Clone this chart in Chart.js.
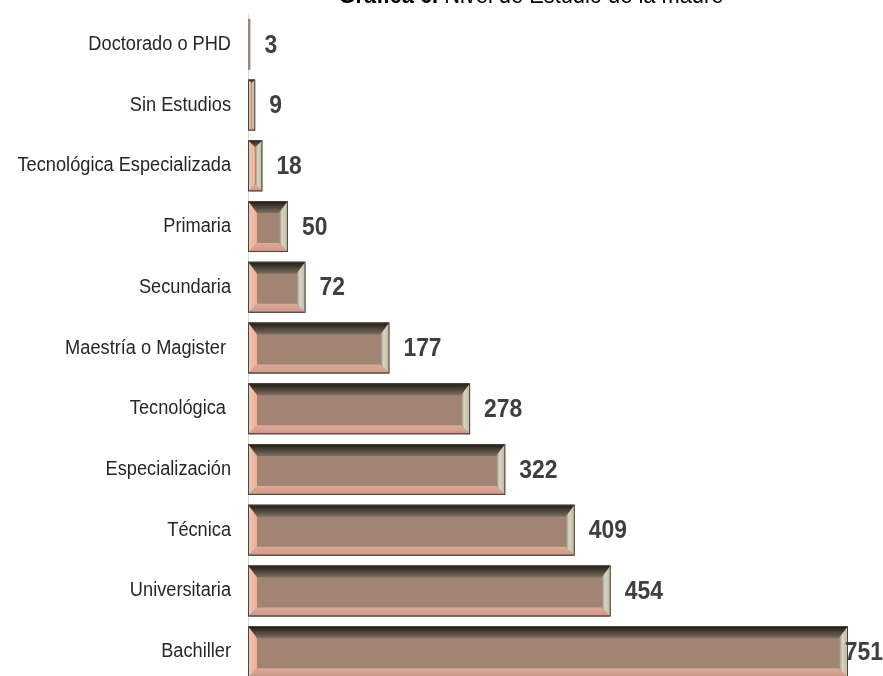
<!DOCTYPE html>
<html>
<head>
<meta charset="utf-8">
<script src="https://cdn.jsdelivr.net/npm/chart.js@4"></script>
<style>
  html, body { margin: 0; padding: 0; background: #fff; overflow: hidden; height: 676px; }
  #chart { display: block; }
</style>
</head>
<body>
<canvas id="chart" width="883" height="682"></canvas>
<script>
// Nivel de estudio de la madre
const categories = [
    'Doctorado o PHD',
    'Sin Estudios',
    'Tecnológica Especializada',
    'Primaria',
    'Secundaria',
    'Maestría o Magister ',
    'Tecnológica ',
    'Especialización',
    'Técnica',
    'Universitaria',
    'Bachiller'
];
const counts = [3, 9, 18, 50, 72, 177, 278, 322, 409, 454, 751];
const titleBold = 'Gráfica 6.';
const titleRest = ' Nivel de Estudio de la madre';

const sans = '"Liberation Sans", Arial, sans-serif';
const squeeze = 0.91; // the source uses a narrow face

// draw text squeezed horizontally
function narrowText(ctx, txt, x, y, align) {
    ctx.save();
    ctx.translate(x, y);
    ctx.scale(squeeze, 1);
    ctx.textAlign = align;
    ctx.fillText(txt, 0, 0);
    ctx.restore();
}

const bevelPlugin = {
    id: 'bevel',
    afterDatasetsDraw(chart) {
        const ctx = chart.ctx;
        const meta = chart.getDatasetMeta(0);
        meta.data.forEach((bar, i) => {
            const L = Math.min(bar.base, bar.x);
            const R = Math.max(bar.base, bar.x);
            const T = bar.y - bar.height / 2;
            const B = bar.y + bar.height / 2;
            const w = R - L;
            if (w < 4) return;
            const b = Math.min(9, w / 2);
            const bt = Math.min(12, w / 2);
            ctx.save();

            // top
            let g = ctx.createLinearGradient(0, T, 0, T + bt);
            g.addColorStop(0, '#1c1810');
            g.addColorStop(1, '#7e6f62');
            ctx.fillStyle = g;
            ctx.beginPath();
            ctx.moveTo(L, T); ctx.lineTo(R, T); ctx.lineTo(R - b, T + bt); ctx.lineTo(L + b, T + bt);
            ctx.closePath(); ctx.fill();

            // bottom
            g = ctx.createLinearGradient(0, B - b, 0, B);
            g.addColorStop(0, '#dcaa98');
            g.addColorStop(0.8, '#d09c8c');
            g.addColorStop(1, '#7a5e56');
            ctx.fillStyle = g;
            ctx.beginPath();
            ctx.moveTo(L, B); ctx.lineTo(R, B); ctx.lineTo(R - b, B - b); ctx.lineTo(L + b, B - b);
            ctx.closePath(); ctx.fill();

            // left
            g = ctx.createLinearGradient(L, 0, L + b, 0);
            g.addColorStop(0, '#f6c4ac');
            g.addColorStop(1, '#e8b09a');
            ctx.fillStyle = g;
            ctx.beginPath();
            ctx.moveTo(L, T); ctx.lineTo(L + b, T + bt); ctx.lineTo(L + b, B - b); ctx.lineTo(L, B);
            ctx.closePath(); ctx.fill();

            // right
            g = ctx.createLinearGradient(R - b, 0, R, 0);
            g.addColorStop(0, '#8c8676');
            g.addColorStop(0.35, '#d8d4c2');
            g.addColorStop(1, '#bdb8a6');
            ctx.fillStyle = g;
            ctx.beginPath();
            ctx.moveTo(R, T); ctx.lineTo(R - b, T + bt); ctx.lineTo(R - b, B - b); ctx.lineTo(R, B);
            ctx.closePath(); ctx.fill();

            ctx.strokeStyle = '#4e463e';
            ctx.lineWidth = 1;
            ctx.strokeRect(L + 0.5, T + 0.5, w - 1, B - T - 1);
            ctx.restore();
        });

        // value labels
        ctx.save();
        ctx.font = 'bold 26px ' + sans;
        ctx.fillStyle = '#3f3f3f';
        ctx.textBaseline = 'middle';
        meta.data.forEach((bar, i) => {
            const txt = String(counts[i]);
            const tw = ctx.measureText(txt).width * 0.88;
            const x = Math.min(Math.max(bar.x, bar.base) + 14, chart.width - tw);
            ctx.save();
            ctx.translate(x, bar.y + 1);
            ctx.scale(0.88, 1);
            ctx.fillText(txt, 0, 0);
            ctx.restore();
        });
        ctx.restore();
    },
    afterDraw(chart) {
        const ctx = chart.ctx;
        const yScale = chart.scales.y;

        // category labels
        ctx.save();
        ctx.font = '20px ' + sans;
        ctx.fillStyle = '#262626';
        ctx.textBaseline = 'middle';
        categories.forEach((c, i) => {
            narrowText(ctx, c, yScale.right - 17, yScale.getPixelForValue(i), 'right');
        });
        ctx.restore();

        // title, cut off at the top like the source
        ctx.save();
        ctx.fillStyle = '#000';
        ctx.textBaseline = 'alphabetic';
        ctx.font = 'bold 24px ' + sans;
        const w1 = ctx.measureText(titleBold).width * squeeze;
        ctx.font = '24px ' + sans;
        const w2 = ctx.measureText(titleRest).width * squeeze;
        const x0 = 531 - (w1 + w2) / 2;
        ctx.font = 'bold 24px ' + sans;
        narrowText(ctx, titleBold, x0, 3, 'left');
        ctx.font = '24px ' + sans;
        narrowText(ctx, titleRest, x0 + w1, 3, 'left');
        ctx.restore();
    }
};

new Chart(document.getElementById('chart'), {
    type: 'bar',
    data: {
        labels: categories,
        datasets: [{
            data: counts,
            backgroundColor: '#a28474',
            borderWidth: 0,
            barPercentage: 0.84,
            categoryPercentage: 1
        }]
    },
    options: {
        indexAxis: 'y',
        responsive: false,
        animation: false,
        layout: { padding: { top: 14, right: 35, left: 0, bottom: 0 } },
        plugins: {
            legend: { display: false },
            tooltip: { enabled: false },
            title: { display: false }
        },
        scales: {
            x: {
                display: false,
                min: 0,
                max: 751
            },
            y: {
                afterFit(scale) { scale.width = 248; },
                grid: { display: false, drawTicks: false },
                border: { display: true, color: '#d9d9d9', width: 1 },
                ticks: { display: false }
            }
        }
    },
    plugins: [bevelPlugin]
});
</script>
</body>
</html>
